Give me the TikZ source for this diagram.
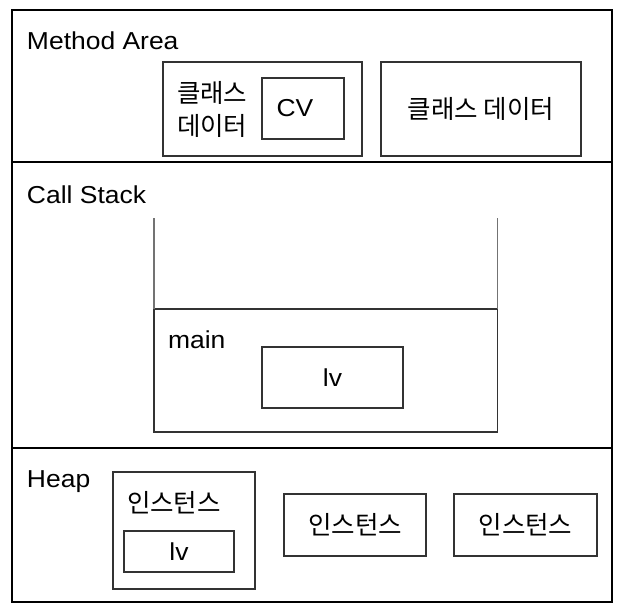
\documentclass[tikz,border=0pt]{standalone}
\usepackage{fontspec}
\setmainfont[FakeStretch=1.08]{Liberation Sans}
\newfontfamily\krfont{Noto Sans CJK KR}
\usetikzlibrary{positioning}

\begin{document}
\begin{tikzpicture}[
        x=1pt, y=-1pt,
        every node/.style={font=\fontsize{24.5}{29}\selectfont, inner sep=0pt, outer sep=0pt},
        area/.style={rectangle, draw=black, line width=2.4pt, minimum width=600pt},
        box/.style={rectangle, draw=black!80, line width=1.2pt, align=center},
        kr/.style={font=\fontsize{25.5}{33}\selectfont\krfont},
        title/.style={anchor=base west},
        wall/.style={draw=black!55, line width=1.2pt}
    ]
        \useasboundingbox (0,0) rectangle (622,610);

        % Areas
        \node[area, minimum height=152pt] (method) at (312,86) {};
        \node[area, minimum height=286pt] (callstack) at (312,305) {};
        \node[area, minimum height=154pt] (heap) at (312,525) {};

        \node[title] (methodtitle) at (27,50) {Method Area};
        \node[title] (stacktitle) at (27,203) {Call Stack};
        \node[title] (heaptitle) at (27,487) {Heap};

        % Method Area
        \node[box, minimum width=199pt, minimum height=94pt] (classA) at (262.5,109) {};
        \node[kr, anchor=west, align=left] (classAtext) at (177,109) {클래스\\데이터};
        \node[box, minimum width=82pt, minimum height=61pt] (cv) at (303,108.5) {};
        \node (cvtext) at (295,108) {CV};
        \node[box, kr, minimum width=200pt, minimum height=94pt] (classB) at (481,109) {클래스 데이터};

        % Call Stack
        \node[box, minimum width=343.5pt, minimum height=123pt] (main) at (325.75,370.5) {};
        \node[title] (maintitle) at (168,348) {main};
        \node[box, minimum width=141pt, minimum height=61pt] (mainlv) at (332.5,377.5) {lv};
        \coordinate (wallL) at (154,218);
        \coordinate (wallR) at (497.5,218);
        \draw[wall] (wallL) -- (main.north west);
        \draw[wall] (wallR) -- (main.north east);

        % Heap
        \node[box, minimum width=142pt, minimum height=117pt] (inst1) at (184,530.5) {};
        \node[kr, anchor=west] (inst1text) at (127,503) {인스턴스};
        \node[box, minimum width=110pt, minimum height=41pt] (instlv) at (179,551.5) {lv};
        \node[box, kr, minimum width=142pt, minimum height=62pt] (inst2) at (355,525) {인스턴스};
        \node[box, kr, minimum width=143pt, minimum height=62pt] (inst3) at (525.5,525) {인스턴스};
    \end{tikzpicture}
\end{document}
